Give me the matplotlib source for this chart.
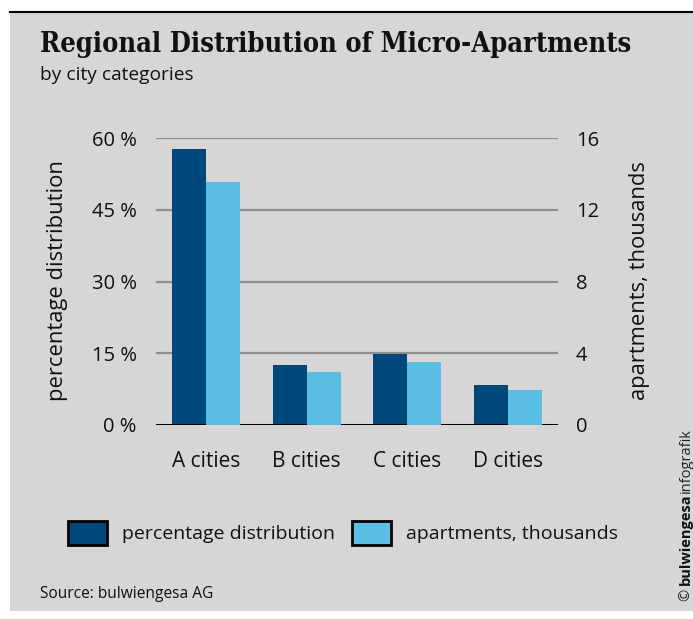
import matplotlib
matplotlib.use("Agg")
import matplotlib.pyplot as plt
from matplotlib.patches import Patch, Rectangle
import numpy as np

categories = ["A cities", "B cities", "C cities", "D cities"]
pct_share = [57.7, 12.5, 14.8, 8.4]          # percentage distribution (%)
apartments_k = [13.55, 2.95, 3.5, 1.95]      # apartments, thousands
left_ticks = [0, 15, 30, 45, 60]
left_ticklabels = ["0 %", "15 %", "30 %", "45 %", "60 %"]
right_ticks = [0, 4, 8, 12, 16]

DARK = "#00487a"
LIGHT = "#5abee4"
BG = "#d7d5d6"
FONT = "Open Sans"

plt.rcParams["font.family"] = [FONT, "DejaVu Sans"]

fig = plt.figure(figsize=(6.93, 6.19), dpi=100)
fig.patch.set_facecolor("white")
# grey panel and top rule
fig.add_artist(Rectangle((10/693, 1 - 611/619), 1 - 10/693, (611 - 12)/619, transform=fig.transFigure,
                         facecolor=BG, edgecolor="none", zorder=-10))
fig.add_artist(plt.Line2D([10/693, 1], [1 - 12/619, 1 - 12/619], transform=fig.transFigure,
                          color="black", lw=1.5))

ax = fig.add_axes([156/693, 1 - 425/619, 402/693, 287/619])
ax.set_facecolor("none")
ax2 = ax.twinx()

x = np.arange(len(categories))
w = 0.34
ax.bar(x - w/2, pct_share, width=w, color=DARK, zorder=3)
ax2.bar(x + w/2, apartments_k, width=w, color=LIGHT, zorder=3)

ax.set_xlim(-0.5, 3.5)
ax.set_ylim(0, 60)
ax2.set_ylim(0, 16)
ax.set_yticks(left_ticks)
ax.set_yticklabels(left_ticklabels)
ax2.set_yticks(right_ticks)
ax.set_xticks(x)
ax.set_xticklabels(categories)

for t in left_ticks[1:]:
    ax.axhline(t, color="#8e8e8e", lw=1.6, zorder=1)
ax.axhline(0, color="black", lw=2.2, zorder=5)

for a in (ax, ax2):
    for s in a.spines.values():
        s.set_visible(False)
    a.tick_params(length=0, labelsize=15, colors="#111111")
ax.tick_params(axis="y", labelsize=14.5, pad=14)
ax2.tick_params(axis="y", labelsize=14.5, pad=13)
ax.tick_params(axis="x", pad=19)

fig.text(57/693, 1 - 281/619, "percentage distribution", rotation=90, ha="center", va="center",
         fontsize=15.8, color="#111111")
fig.text(640/693, 1 - 281/619, "apartments, thousands", rotation=90, ha="center", va="center",
         fontsize=15.8, color="#111111")

# title & subtitle
fig.text(40/693, 1 - 45/619, "Regional Distribution of Micro-Apartments", ha="left", va="center",
         fontsize=19.5, fontweight="bold", family="DejaVu Serif", stretch="condensed", color="#111111")
fig.text(40/693, 1 - 75/619, "by city categories", ha="left", va="center", fontsize=13.8, color="#111111")

# legend
handles = [Patch(facecolor=DARK, edgecolor="black", linewidth=2),
           Patch(facecolor=LIGHT, edgecolor="black", linewidth=2)]
fig.legend(handles, ["percentage distribution", "apartments, thousands"], loc="center left",
           bbox_to_anchor=(68/693, 1 - 533/619), ncol=2, frameon=False, fontsize=14,
           handlelength=2.0, handleheight=1.55, handletextpad=0.8, columnspacing=0.85,
           borderpad=0, borderaxespad=0, labelcolor="#111111")

fig.text(40/693, 1 - 594/619, "Source: bulwiengesa AG", ha="left", va="center", fontsize=11.2, color="#111111")

# copyright vertical
fig.canvas.draw()
r = fig.canvas.get_renderer()
y0 = 1 - 601/619
xc = 686/693
cs = 10.5
t1 = fig.text(xc, y0, "© ", rotation=90, ha="center", va="bottom", fontsize=cs, color="#222222")
fig.canvas.draw()
bb = t1.get_window_extent(r).transformed(fig.transFigure.inverted())
t2 = fig.text(xc, bb.y1, "bulwiengesa", rotation=90, ha="center", va="bottom", fontsize=cs,
              fontweight="bold", color="#111111")
fig.canvas.draw()
bb2 = t2.get_window_extent(r).transformed(fig.transFigure.inverted())
fig.text(xc, bb2.y1, "infografik", rotation=90, ha="center", va="bottom", fontsize=cs, color="#222222")

fig.savefig("out.png", dpi=100, facecolor=fig.get_facecolor())
